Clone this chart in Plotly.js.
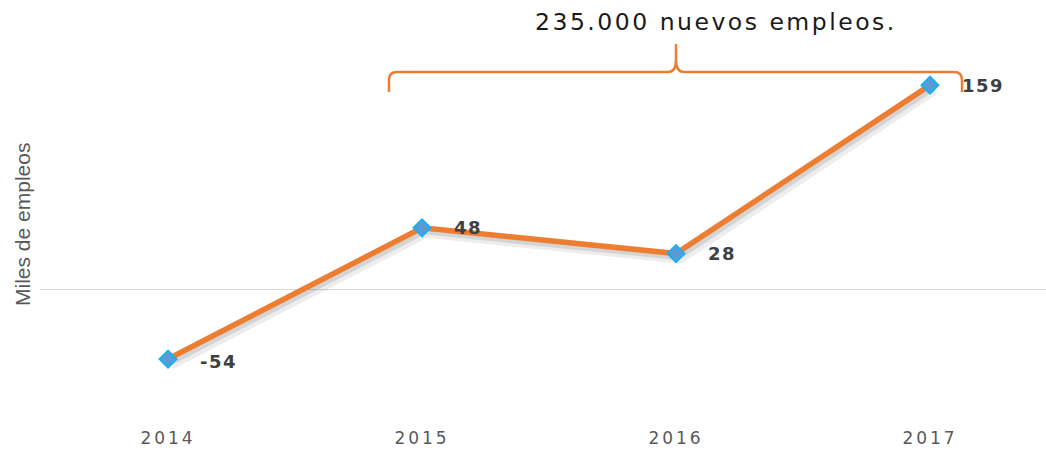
<!DOCTYPE html>
<html>
<head>
<meta charset="utf-8">
<script src="https://cdn.plot.ly/plotly-3.0.1.min.js"></script>
<style>html,body{margin:0;padding:0;background:#fff;}#chart{width:1046px;height:452px;}</style>
</head>
<body>
<div id="chart"></div>
<script>
const years = ['2014', '2015', '2016', '2017'];
const empleos = [-54, 48, 28, 159];
const valueLabels = ['-54', '48', '28', '159'];
const yTitle = 'Miles de empleos';
const braceText = '235.000 nuevos empleos.';

const W = 1046, H = 452;
const M = {l: 40, r: 0, t: 0, b: 40};
const PW = W - M.l - M.r, PH = H - M.t - M.b;
const xRange = [-0.504, -0.504 + PW / 254];
const yRange = [-95.2, 225.2];
const pxX = (PW) / (xRange[1] - xRange[0]);
const pxY = (PH) / (yRange[1] - yRange[0]);

// pixel -> paper helpers for decorations
const px = v => ((v - M.l) / PW).toFixed(5);
const py = v => (1 - (v - M.t) / PH).toFixed(5);
const P = (x, y) => px(x) + ',' + py(y);

const orange = '#ED7D31';

const sp = (t, ls) => '<span style="letter-spacing:' + ls + 'px">' + t + '</span>';

// shadow traces drawn on offset axes (x2/y2, x3/y3), main on top (x4/y4)
const shadowOffsets = [[4, 5, 10, 'rgba(0,0,0,0.07)'], [2, 3, 7, 'rgba(0,0,0,0.10)']];
const traces = [];
shadowOffsets.forEach((s, i) => {
  traces.push({
    x: years, y: empleos, type: 'scatter', mode: 'lines',
    line: {color: s[3], width: s[2]},
    xaxis: 'x' + (i + 2), yaxis: 'y' + (i + 2), hoverinfo: 'skip', showlegend: false
  });
});
traces.push({
  x: years, y: empleos, type: 'scatter', mode: 'lines+markers',
  xaxis: 'x4', yaxis: 'y4',
  line: {color: orange, width: 5.5},
  marker: {symbol: 'diamond', size: 13, color: '#5B9BD5', line: {color: '#1AAFEF', width: 2}},
  showlegend: false
});

const annotations = years.map((yr, i) => ({
  x: i, y: empleos[i], xref: 'x', yref: 'y',
  text: sp(valueLabels[i], 1.5), showarrow: false,
  xanchor: 'left', yanchor: 'middle', xshift: 30, yshift: i === 0 ? -2 : 0,
  font: {family: 'DejaVu Sans, Arial, sans-serif', size: 18, color: '#404040', weight: 'bold'}
}));
annotations.push({
  x: px(716), y: py(22), xref: 'paper', yref: 'paper',
  text: sp(braceText, 2.5), showarrow: false, xanchor: 'center', yanchor: 'middle',
  font: {family: 'DejaVu Sans, Arial, sans-serif', size: 23.5, color: '#1a1a1a'}
});
annotations.push({
  x: px(22), y: py(225), xref: 'paper', yref: 'paper',
  text: yTitle, showarrow: false, textangle: -90, xanchor: 'center', yanchor: 'middle',
  font: {family: 'Liberation Sans, Arial, sans-serif', size: 21, color: '#595959'}
});

const bracePath = 'M' + P(389, 92) + ' L' + P(389, 80) + ' Q' + P(389, 72) + ' ' + P(397, 72) +
  ' L' + P(668, 72) + ' Q' + P(676, 72) + ' ' + P(676, 60) + ' L' + P(676, 44) +
  ' M' + P(676, 60) + ' Q' + P(676, 72) + ' ' + P(684, 72) +
  ' L' + P(954, 72) + ' Q' + P(962, 72) + ' ' + P(962, 80) + ' L' + P(962, 92);

function shiftedX(dxPx) { return [xRange[0] - dxPx / pxX, xRange[1] - dxPx / pxX]; }
function shiftedY(dyPx) { return [yRange[0] + dyPx / pxY, yRange[1] + dyPx / pxY]; }

const hidden = {visible: false, showgrid: false, zeroline: false};
const layout = {
  width: W, height: H, margin: M,
  paper_bgcolor: '#ffffff', plot_bgcolor: '#ffffff',
  showlegend: false,
  xaxis: {
    type: 'category', range: xRange, showgrid: false, zeroline: false, showline: false,
    categoryarray: years, categoryorder: 'array',
    ticks: '', tickvals: years, ticktext: years.map(y => sp(y, 3)),
    ticklabelstandoff: 14,
    tickfont: {family: 'DejaVu Sans, Arial, sans-serif', size: 17, color: '#595959'}
  },
  yaxis: {
    range: yRange, showgrid: false, showticklabels: false, ticks: '',
    zeroline: true, zerolinecolor: '#D9D9D9', zerolinewidth: 1, showline: false
  },
  xaxis2: Object.assign({type: 'category', overlaying: 'x', anchor: 'y2', range: shiftedX(shadowOffsets[0][0])}, hidden),
  yaxis2: Object.assign({overlaying: 'y', anchor: 'x2', range: shiftedY(shadowOffsets[0][1])}, hidden),
  xaxis3: Object.assign({type: 'category', overlaying: 'x', anchor: 'y3', range: shiftedX(shadowOffsets[1][0])}, hidden),
  yaxis3: Object.assign({overlaying: 'y', anchor: 'x3', range: shiftedY(shadowOffsets[1][1])}, hidden),
  xaxis4: Object.assign({type: 'category', overlaying: 'x', anchor: 'y4', range: xRange}, hidden),
  yaxis4: Object.assign({overlaying: 'y', anchor: 'x4', range: yRange}, hidden),
  shapes: [{type: 'path', xref: 'paper', yref: 'paper', path: bracePath,
            line: {color: orange, width: 2.5}}],
  annotations: annotations
};

Plotly.newPlot('chart', traces, layout, {displayModeBar: false, staticPlot: true});
</script>
</body>
</html>
